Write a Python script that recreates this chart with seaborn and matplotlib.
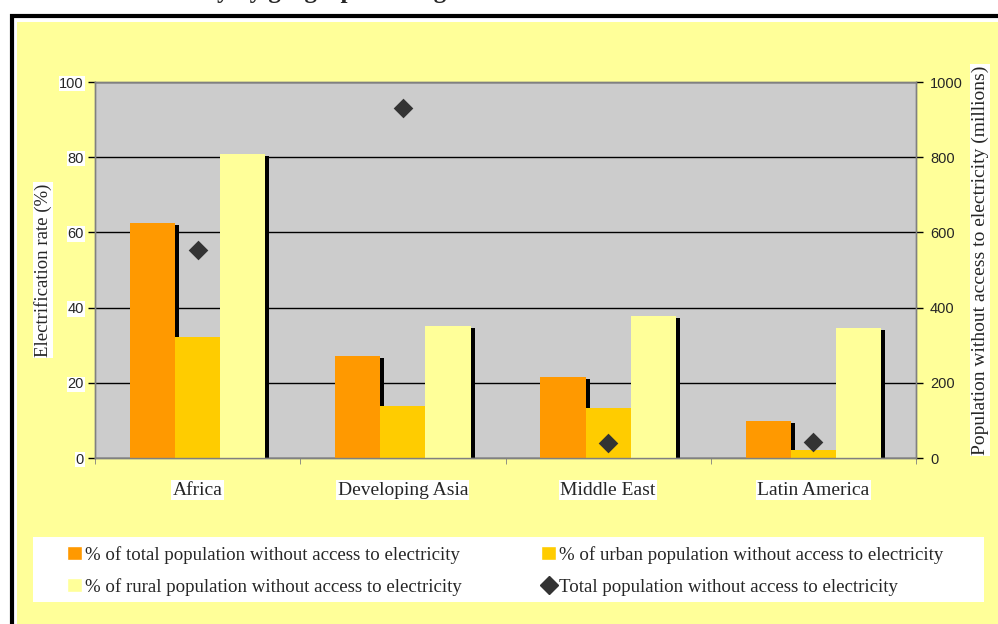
import numpy as np
import pandas as pd
import matplotlib
matplotlib.use('Agg')
import matplotlib.pyplot as plt
import matplotlib.transforms as mtransforms
from matplotlib.patches import Rectangle, Patch
from matplotlib.lines import Line2D
import seaborn as sns

# Данные
regions = ['Africa', 'Developing Asia', 'Middle East', 'Latin America']
total_pct = [62.5, 27.1, 21.5, 9.8]
urban_pct = [32.2, 13.8, 13.3, 2.2]
rural_pct = [80.9, 35.1, 37.8, 34.6]
pop_millions = [553, 931, 40, 43]

series_names = ['% of total population without access to electricity',
                '% of urban population without access to electricity',
                '% of rural population without access to electricity']
pop_name = 'Total population without access to electricity'
colors = ['#FF9900', '#FFCC00', '#FFFF99']

df = pd.DataFrame({
    'region': regions * 3,
    'series': np.repeat(series_names, len(regions)),
    'value': total_pct + urban_pct + rural_pct,
})

sns.set_style('white')
plt.rcParams['font.family'] = ['Liberation Serif', 'DejaVu Serif']

W, H = 998, 624
fig = plt.figure(figsize=(W / 100, H / 100), dpi=100)
fig.patch.set_facecolor('white')

# рамка и жёлтый фон (под осями)
fig.patches.append(Rectangle((12 / W, -0.05), 1.1, 1.05 - 15.5 / H, transform=fig.transFigure,
                             fill=False, edgecolor='black', lw=3, zorder=-3))
fig.patches.append(Rectangle((17 / W, 0), 1, 1 - 22 / H, transform=fig.transFigure,
                             facecolor='#FFFF99', edgecolor='none', zorder=-2))
# белая подложка легенды
fig.patches.append(Rectangle((33 / W, 1 - 602 / H), 951 / W, 65 / H, transform=fig.transFigure,
                             facecolor='white', edgecolor='none', zorder=-1))

fig.text(20 / W, 1 + 1.5 / H, 'Access to electricity by geographical region',
         fontsize=18, fontweight='bold', va='baseline', ha='left')

ax_l, ax_r = 95, 916
ax = fig.add_axes([ax_l / W, 1 - 458 / H, (ax_r - ax_l) / W, 376 / H])
ax.set_facecolor('#CCCCCC')

sns.barplot(data=df, x='region', y='value', hue='series', palette=colors,
            width=0.66, gap=0, saturation=1, linewidth=0, ax=ax, legend=False, zorder=3)

# чёрные "тени" справа от столбцов
shift = mtransforms.ScaledTranslation(4 / 100, -2 / 100, fig.dpi_scale_trans)
for p in list(ax.patches):
    sh = Rectangle(p.get_xy(), p.get_width(), p.get_height(), facecolor='black', lw=0, zorder=2.5)
    sh.set_transform(ax.transData + shift)
    ax.add_patch(sh)

ax.set_ylim(0, 100)
ax.set_yticks(range(0, 101, 20))
ax.yaxis.grid(True, color='black', lw=1)
ax.set_axisbelow(True)
for s in ax.spines.values():
    s.set_color('#808080')
    s.set_linewidth(1)

ax2 = ax.twinx()
sns.scatterplot(x=regions, y=pop_millions, marker='D', s=100, color='#333333',
                linewidth=0, ax=ax2, zorder=5, legend=False)
ax2.set_ylim(0, 1000)
ax2.set_yticks(range(0, 1001, 200))
for s in ax2.spines.values():
    s.set_color('#808080')
    s.set_linewidth(1)

ax.set_xlim(-0.5, len(regions) - 0.5)
ax.set_xticks(range(len(regions)))
ax.set_xticklabels(regions)
ax.set_xticks(np.arange(-0.5, len(regions), 1), minor=True)
ax.tick_params(axis='x', which='major', length=0, pad=17, labelsize=14)
ax.tick_params(axis='x', which='minor', length=4, color='#808080', direction='out', bottom=True)
for lab in ax.get_xticklabels():
    lab.set_bbox(dict(facecolor='white', edgecolor='none', pad=1))

ax.tick_params(axis='y', length=5, width=1, color='black', direction='out', left=True, pad=3, labelsize=10.5)
for lab in ax.get_yticklabels():
    lab.set_family('Liberation Sans')
    lab.set_bbox(dict(facecolor='white', edgecolor='none', pad=0.5))
ax2.tick_params(axis='y', length=5, width=1, color='black', direction='out', right=True, pad=5, labelsize=10.5)
for lab in ax2.get_yticklabels():
    lab.set_family('Liberation Sans')

ax.set_xlabel('')
ax2.set_xlabel('')
ax.set_ylabel('Electrification rate (%)', fontsize=13.5,
              bbox=dict(facecolor='white', edgecolor='none', pad=1))
ax.yaxis.label.set_va('center')
ax.yaxis.set_label_coords((43 - ax_l) / (ax_r - ax_l), 0.5)
ax2.set_ylabel('Population without access to electricity (millions)', fontsize=14, rotation=90,
               bbox=dict(facecolor='white', edgecolor='none', pad=1))
ax2.yaxis.label.set_va('center')
ax2.yaxis.set_label_coords((980 - ax_l) / (ax_r - ax_l), 0.527)

# легенда
handles = [Patch(facecolor=colors[0]), Patch(facecolor=colors[2]),
           Patch(facecolor=colors[1]),
           Line2D([], [], marker='D', color='#333333', ls='none', markersize=9)]
labels = [series_names[0], series_names[2], series_names[1], pop_name]
fig.legend(handles, labels, ncol=2, loc='center left', bbox_to_anchor=(67 / W, 1 - 571 / H),
           frameon=False, fontsize=13.6, handlelength=0.8, handleheight=0.75,
           handletextpad=0.15, columnspacing=4.2, labelspacing=0.75,
           borderpad=0, borderaxespad=0)

fig.savefig('out.png', dpi=100)
